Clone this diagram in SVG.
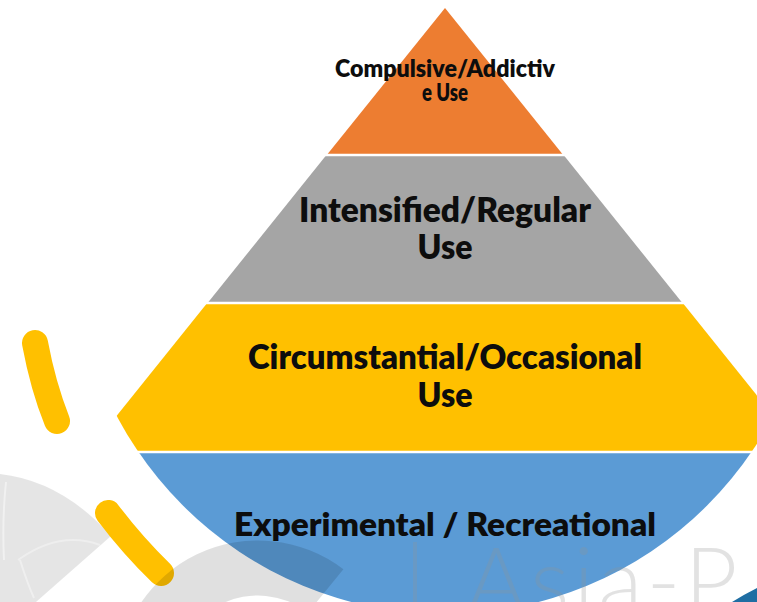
<svg xmlns="http://www.w3.org/2000/svg" width="757" height="602" viewBox="0 0 757 602">
  <defs>
    <style>
      .label { font-family: "Lato", "Liberation Sans", Arial, sans-serif; font-weight: 800; fill: #0d0d0d; text-anchor: middle; }
      .sep { stroke: #ffffff; stroke-width: 2.6; }
      .brush { fill: none; stroke: #ffc000; stroke-width: 26; stroke-linecap: round; }
      .mark { fill: #949494; opacity: 0.26; }
    </style>
    <!-- round window that trims the wide lower layers -->
    <clipPath id="roundWindow">
      <circle cx="445" cy="243" r="371"/>
    </clipPath>
  </defs>

  <rect width="757" height="602" fill="#ffffff"/>

  <!-- faint fan shape, lower left -->
  <g id="fan">
    <path d="M0,474 Q62,481 111,536 L36,602 L0,602 Z" fill="#000000" opacity="0.1"/>
    <path d="M6,482 Q2,520 4,560" fill="none" stroke="#ffffff" stroke-width="2" opacity="0.45"/>
    <path d="M18,560 Q60,530 100,545" fill="none" stroke="#ffffff" stroke-width="2" opacity="0.35"/>
    <path d="M20,560 Q28,585 34,598" fill="none" stroke="#ffffff" stroke-width="2" opacity="0.4"/>
  </g>

  <!-- pyramid layers -->
  <g clip-path="url(#roundWindow)">
    <g id="layer-compulsive">
      <polygon points="445,8 562.4,154 327.6,154" fill="#ed7d31"/>
      <text class="label" x="445" y="76.5" font-size="23.5" textLength="220" lengthAdjust="spacingAndGlyphs">Compulsive/Addictiv</text>
      <text class="label" x="445" y="101" font-size="23.5" textLength="46" lengthAdjust="spacingAndGlyphs">e Use</text>
    </g>
    <g id="layer-intensified">
      <polygon points="325.6,156 564.4,156 681.6,302 208.4,302" fill="#a5a5a5"/>
      <text class="label" x="445" y="222" font-size="34" textLength="292" lengthAdjust="spacingAndGlyphs">Intensified/Regular</text>
      <text class="label" x="445" y="258.5" font-size="34" textLength="55" lengthAdjust="spacingAndGlyphs">Use</text>
    </g>
    <g id="layer-circumstantial">
      <polygon points="206.4,304 683.6,304 801.6,451 88.4,451" fill="#ffc000"/>
      <text class="label" x="445" y="369" font-size="33" textLength="394" lengthAdjust="spacingAndGlyphs">Circumstantial/Occasional</text>
      <text class="label" x="445" y="407" font-size="33" textLength="55" lengthAdjust="spacingAndGlyphs">Use</text>
    </g>
    <g id="layer-experimental">
      <polygon points="86.4,453 803.6,453 937.7,620 -47.7,620" fill="#5b9bd5"/>
      <text class="label" x="445" y="535.5" font-size="31.5" textLength="422" lengthAdjust="spacingAndGlyphs">Experimental / Recreational</text>
    </g>
    <!-- white gaps between layers -->
    <line class="sep" x1="0" y1="155" x2="757" y2="155"/>
    <line class="sep" x1="0" y1="303" x2="757" y2="303"/>
    <line class="sep" x1="0" y1="452" x2="757" y2="452"/>
  </g>

  <!-- yellow brush strokes -->
  <g id="brushes">
    <path class="brush" d="M35,343 Q43,386 57,421"/>
    <path class="brush" d="M108,513 Q133,546 161,573"/>
  </g>

  <!-- translucent ring segment, lower middle -->
  <g id="ring">
    <path d="M343.4,569.3 A141,141 0 0 0 117,678 L175,678 A83,83 0 0 1 308.2,612.4 Z" fill="#000000" opacity="0.12"/>
  </g>

  <!-- faint wordmark -->
  <g id="wordmark">
    <rect class="mark" x="413" y="542" width="4" height="60"/>
    <text x="466" y="614" font-family="Lato, 'Liberation Sans', sans-serif" font-weight="300" font-size="92" letter-spacing="4" fill="#949494" opacity="0.26">Asia-P</text>
  </g>

  <!-- corner accent -->
  <path d="M732,602 Q745,594 757,588 L757,602 Z" fill="#1f6ea3"/>
</svg>
